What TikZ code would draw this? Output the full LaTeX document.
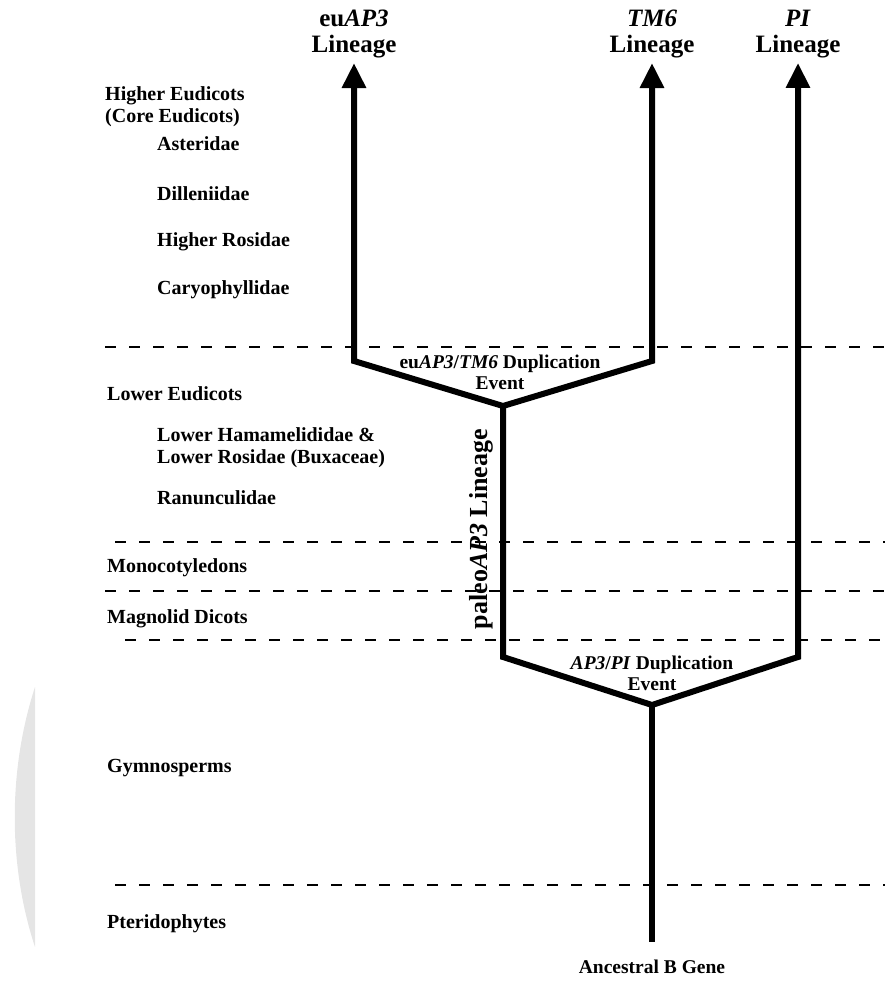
\documentclass[tikz,border=0pt]{standalone}
\usepackage{fontspec}
\setmainfont{Liberation Serif}
\usetikzlibrary{arrows.meta}
\tikzset{
  taxon/.style={
    anchor=west, inner sep=0pt, align=left,
    font=\fontsize{20}{22}\selectfont\bfseries
  },
  lineagelabel/.style={
    inner sep=0pt, outer sep=5pt, align=center,
    font=\fontsize{25}{26}\selectfont\bfseries
  },
  eventlabel/.style={
    inner sep=0pt, align=center,
    font=\fontsize{19.5}{21}\selectfont\bfseries
  },
  lintip/.tip={Triangle[width=23pt,length=25pt]},
  branch/.style={line width=6pt, line join=miter, black},
  divider/.style={line width=2pt, dash pattern=on 11pt off 13pt}
}

\begin{document}
\begin{tikzpicture}[x=1pt, y=-1pt]
\useasboundingbox (0,0) rectangle (885,981);

% faint grey edge on the left
\fill[black!10] (35,687) .. controls (8,770) and (8,865) .. (35,947) -- cycle;

% group boundaries
\foreach \y/\x in {347/105, 542/115, 591/105, 640/125, 885/115}
  \draw[divider] (\x,\y) -- (885,\y);

% lineage labels
\node[lineagelabel] (euap3) at (354,34) {eu\textit{AP3}\\Lineage};
\node[lineagelabel] (tm6) at (652,34) {\textit{TM6}\\Lineage};
\node[lineagelabel] (pi) at (798,34) {\textit{PI}\\Lineage};

% taxa
\node[taxon] (higher) at (105,107) {Higher Eudicots\\(Core Eudicots)};
\node[taxon] (aster) at (157,144) {Asteridae};
\node[taxon] (dillen) at (157,194) {Dilleniidae};
\node[taxon] (rosid) at (157,242) {Higher Rosidae};
\node[taxon] (caryo) at (157,290) {Caryophyllidae};
\node[taxon] (lower) at (107,394) {Lower Eudicots};
\node[taxon] (hamam) at (157,448) {Lower Hamamelididae \&\\Lower Rosidae (Buxaceae)};
\node[taxon] (ranun) at (157,498) {Ranunculidae};
\node[taxon] (monoc) at (107,568) {Monocotyledons};
\node[taxon] (magno) at (107,619) {Magnolid Dicots};
\node[taxon] (gymno) at (107,768) {Gymnosperms};
\node[taxon] (pteri) at (107,924) {Pteridophytes};

% tree
\coordinate (kEu) at (354,361);
\coordinate (kTM) at (652,361);
\coordinate (dupE) at (503,406);
\coordinate (kPa) at (503,657);
\coordinate (kPI) at (798,657);
\coordinate (dupP) at (652,705);
\coordinate (base) at (652,942);

\draw[branch, lintip-lintip] (euap3.south) -- (kEu) -- (dupE) -- (kTM) -- (tm6.south);
\draw[branch, -lintip] (dupE) -- (kPa) -- (dupP) -- (kPI) -- (pi.south);
\draw[branch] (dupP) -- (base);

% event and lineage texts
\node[eventlabel] (evE) at (500,372) {eu\textit{AP3}/\textit{TM6} Duplication\\Event};
\node[eventlabel] (evP) at (652,673) {\textit{AP3}/\textit{PI} Duplication\\Event};
\node[lineagelabel, outer sep=0pt, font=\fontsize{26}{27}\selectfont\bfseries, rotate=90]
  (paleo) at (481,529) {paleo\textit{AP3} Lineage};
\node[eventlabel] (anc) at (652,967) {Ancestral B Gene};
\end{tikzpicture}
\end{document}
